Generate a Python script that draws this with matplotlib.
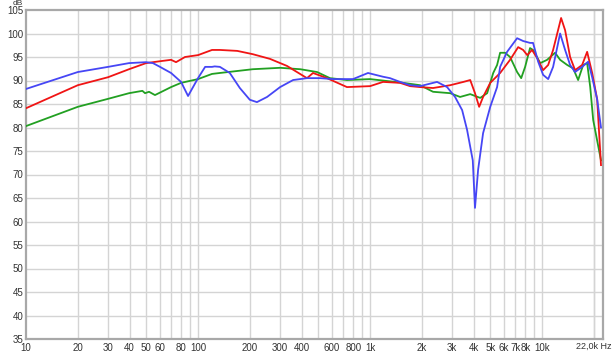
import matplotlib
matplotlib.use("Agg")
import matplotlib.pyplot as plt
import numpy as np

plt.rcParams['font.family'] = ['Liberation Sans', 'DejaVu Sans']

blue_f = [10, 20, 30, 39.7, 49.9, 54.7, 60.1, 69.7, 79.7, 87.5, 100, 110, 120.6, 125, 134, 153, 175, 200, 220,
          252, 300, 357, 430, 512, 609, 796, 973, 1190, 1306, 1494, 1709, 1953, 2452, 2804, 3120, 3430, 3664,
          3955, 4074, 4247, 4540, 4996, 5476, 5703, 6260, 7160, 7760, 8510, 8860, 9490, 10140, 10850, 11590,
          12730, 13610, 14550, 15550, 17090, 18530, 19550, 20900, 22000]
blue_db = [88.2, 91.8, 92.9, 93.7, 93.9, 93.7, 92.9, 91.6, 89.7, 86.7, 90.5, 92.9, 92.9, 93.0, 92.9, 91.6, 88.4,
           85.9, 85.4, 86.5, 88.6, 90.1, 90.5, 90.5, 90.3, 90.3, 91.6, 90.8, 90.5, 89.7, 89.0, 88.8, 89.7, 88.6,
           86.5, 83.7, 79.5, 73.0, 62.9, 71.0, 78.8, 84.4, 88.6, 92.9, 96.1, 99.0, 98.4, 98.0, 98.0, 94.0, 91.2,
           90.3, 92.9, 100.0, 96.5, 93.3, 91.8, 92.9, 94.0, 90.7, 86.0, 80.0]

red_f = [10, 20, 30, 39.7, 49.9, 60.1, 69.7, 74.5, 84, 100, 120.6, 134, 169, 208, 262, 329, 376, 430, 466, 562,
         734, 1000, 1190, 1494, 1709, 1953, 2324, 2923, 3489, 3821, 4074, 4307, 4540, 4996, 5703, 6515, 7260,
         7760, 8200, 8740, 9360, 10140, 10850, 11590, 12900, 13610, 14550, 15550, 17090, 18280, 19550, 20900, 22000]
red_db = [84.1, 89.0, 90.7, 92.4, 93.7, 94.1, 94.4, 93.9, 95.0, 95.4, 96.5, 96.5, 96.3, 95.6, 94.6, 93.1, 91.8,
          90.5, 91.6, 90.5, 88.6, 88.8, 89.7, 89.5, 88.8, 88.6, 88.4, 89.0, 89.7, 90.1, 87.3, 84.4, 86.5, 89.5,
          91.6, 94.4, 97.1, 96.5, 95.4, 96.5, 94.8, 92.2, 93.3, 96.5, 103.3, 100.7, 95.0, 92.2, 93.3, 96.1, 91.6,
          86.0, 72.0]

green_f = [10, 20, 30, 39.7, 47.5, 49.2, 51.9, 56.2, 69.7, 79.7, 100, 120.6, 134, 208, 300, 393, 492, 585, 734,
           1000, 1555, 1953, 2324, 2923, 3337, 3821, 4368, 4793, 5200, 5476, 5703, 6096, 6515, 7160, 7560, 7970,
           8510, 8860, 9760, 10700, 11900, 12730, 14000, 15150, 16200, 17330, 18280, 19050, 19820, 22000]
green_db = [80.3, 84.4, 86.1, 87.3, 87.8, 87.3, 87.6, 86.9, 88.6, 89.5, 90.3, 91.4, 91.6, 92.4, 92.7, 92.4, 91.8,
            90.5, 90.1, 90.3, 89.5, 89.0, 87.6, 87.3, 86.5, 87.1, 86.3, 87.3, 91.6, 93.3, 95.9, 95.9, 95.0, 91.8,
            90.5, 92.9, 96.9, 96.5, 93.7, 94.4, 95.9, 94.4, 93.3, 92.6, 90.1, 93.3, 93.7, 88.6, 81.6, 73.0]

x_ticks = [10, 20, 30, 40, 50, 60, 80, 100, 200, 300, 400, 600, 800, 1000, 2000, 3000, 4000, 5000, 6000,
           7000, 8000, 10000]
x_labels = ["10", "20", "30", "40", "50", "60", "80", "100", "200", "300", "400", "600", "800", "1k", "2k",
            "3k", "4k", "5k", "6k", "7k", "8k", "10k"]
y_ticks = list(range(35, 106, 5))

fig = plt.figure(figsize=(6.14, 3.54), dpi=100)
ax = fig.add_axes([26 / 614, 15 / 354, 577 / 614, 329 / 354])
ax.set_xscale('log')
ax.set_xlim(10, 22600)
ax.set_ylim(35, 105)

grid_f = [m * 10 ** e for e in range(1, 5) for m in range(1, 10)] + [20000]
for g in grid_f:
    if 10 < g < 22600:
        ax.axvline(g, color='#d4d4d4', lw=1.0, zorder=0)
for y in y_ticks[1:-1]:
    ax.axhline(y, color='#d4d4d4', lw=1.0, zorder=0)

ax.plot(green_f, green_db, color='#22a022', lw=1.3, zorder=3)
ax.plot(red_f, red_db, color='#f01414', lw=1.3, zorder=4)
ax.plot(blue_f, blue_db, color='#4646f5', lw=1.3, zorder=5)

ax.set_xticks(x_ticks)
ax.set_xticklabels(x_labels)
ax.xaxis.set_minor_locator(matplotlib.ticker.NullLocator())
ax.set_yticks(y_ticks)
ax.set_yticklabels([str(v) for v in y_ticks])
ax.tick_params(axis='both', length=0, labelsize=7, colors='#333333', pad=2)
ax.tick_params(axis='x', pad=3)

for s in ax.spines.values():
    s.set_color('#a8a8a8')
    s.set_linewidth(1.6)

fig.text(13 / 614, 1 - 0 / 354, "dB", fontsize=6, color='#333333', va='top', ha='left')
fig.text(612 / 614, 1 - 342 / 354, "22,0k Hz", fontsize=6.5, color='#333333', va='top', ha='right')

fig.savefig("out.png", dpi=100, facecolor='white')
